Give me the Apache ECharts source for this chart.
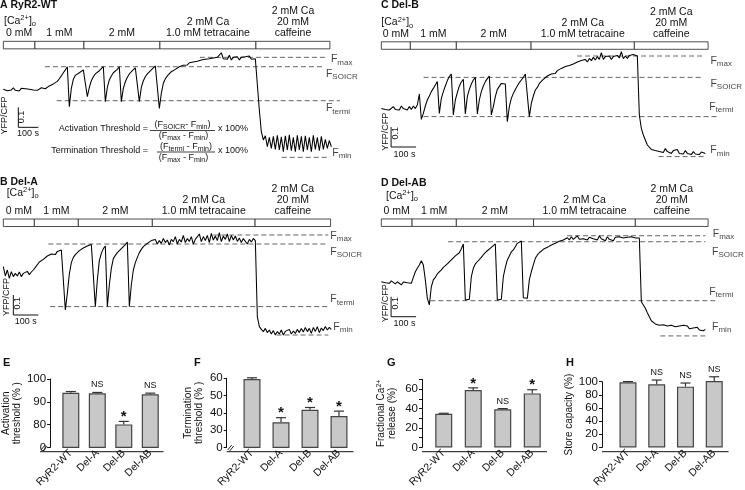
<!DOCTYPE html>
<html><head><meta charset="utf-8">
<script src="https://cdn.jsdelivr.net/npm/echarts@6/dist/echarts.min.js"></script>
<style>html,body{margin:0;padding:0;background:#fff}#c{width:745px;height:490px}</style>
</head><body><div id="c"></div><script>
// ================= DATA =================
const dtA = 10;
const traceA = [1.000,1.007,0.993,1.003,0.997,1.008,0.995,1.002,0.992,1.005,0.998,1.003,0.993,1.000,1.007,0.997,1.003,0.995,1.002,1.008,0.998,
1.003,1.010,1.017,1.013,1.027,1.030,1.040,1.053,1.067,1.083,1.097,1.113,
0.913,1.005,1.050,1.070,1.077,1.083,1.090,1.097,1.107,
0.963,1.010,1.043,1.063,1.077,1.087,1.093,1.103,1.113,
0.938,1.010,1.047,1.067,1.083,1.093,1.100,1.113,
0.938,1.005,1.038,1.060,1.077,1.088,1.097,1.107,1.113,
0.938,1.010,1.043,1.063,1.077,1.087,1.097,1.105,1.117,1.122,
0.905,0.980,1.030,1.053,1.067,1.077,1.088,1.093,1.100,1.103,1.113,1.110,1.120,1.127,1.122,1.133,1.127,1.137,1.130,1.140,
1.133,1.147,1.137,1.150,1.140,1.153,1.143,1.157,1.147,1.160,1.150,1.183,1.153,1.163,1.150,1.170,1.147,1.160,1.150,1.163,
1.147,1.160,1.150,1.163,1.153,1.167,1.150,1.160,1.153,1.163,
0.897,0.788,0.747,0.768,0.713,0.760,0.705,0.765,0.700,0.770,0.697,0.762,0.688,0.768,0.697,0.772,0.693,0.760,0.688,0.770,
0.697,0.765,0.688,0.768,0.697,0.760,0.688,0.770,0.700,0.760,0.693,0.765,0.700,0.750,0.705,0.745,0.713];
const dtB = 8;
const traceB = [1.037,0.990,1.020,0.978,1.012,0.987,1.003,0.990,1.010,0.987,1.003,0.993,1.013,0.997,1.010,1.020,1.033,1.043,1.060,1.053,1.073,1.080,1.090,1.083,1.100,1.103,1.097,1.113,1.110,1.120,1.117,
0.820,0.903,1.000,1.057,1.083,1.097,1.107,1.117,1.123,1.130,1.133,1.140,1.143,1.147,1.150,
0.837,0.970,1.067,1.103,1.127,1.140,
0.837,0.945,1.028,1.077,1.093,1.107,1.117,1.127,1.137,1.147,1.160,
0.837,0.945,1.020,1.057,1.083,1.107,1.123,1.137,1.147,1.153,1.150,1.167,1.157,1.173,1.150,1.167,1.153,1.178,1.157,1.170,
1.145,1.173,1.162,1.187,1.150,1.173,1.160,1.193,1.157,1.177,1.163,1.187,1.150,1.173,1.167,1.200,1.162,1.187,1.167,1.193,
1.157,1.203,1.170,1.190,1.167,1.207,1.162,1.190,1.173,1.200,1.162,1.193,1.170,1.190,1.163,1.180,1.157,1.177,1.167,1.150,
1.173,1.160,1.178,1.167,
0.787,0.737,0.723,0.712,0.728,0.707,0.720,0.700,0.717,0.695,0.712,0.700,0.720,0.695,0.713,0.703,0.723,0.700,0.715,0.703,
0.723,0.707,0.728,0.710,0.733,0.712,0.728,0.703,0.733,0.713,0.737,0.707,0.730,0.717,0.737,0.720,0.733,0.723];
const dtC = 8;
const traceC = [1.003,1.012,0.998,1.008,0.995,1.005,1.012,0.998,1.008,0.995,1.015,1.002,1.008,0.995,1.012,0.998,1.015,1.002,1.020,
1.075,0.948,
0.978,1.015,1.045,1.065,1.087,1.103,1.120,1.137,
0.978,1.053,1.087,1.115,1.142,1.162,1.175,
0.970,1.045,1.082,1.115,1.135,1.148,
0.975,1.062,1.098,1.125,1.145,1.158,
0.975,1.045,1.087,1.115,1.137,1.152,1.165,
0.970,1.012,1.062,1.098,1.108,1.128,1.132,1.125,
0.937,1.012,1.053,1.078,1.098,1.115,1.132,1.145,1.158,1.175,1.182,
0.962,1.028,1.065,1.095,1.108,1.128,1.135,1.148,1.158,1.165,1.170,1.175,1.185,1.178,1.192,1.195,1.203,1.198,1.212,1.205,
1.218,1.212,1.225,1.218,1.235,1.225,1.242,1.232,1.248,1.235,1.253,1.242,1.258,1.245,1.262,1.248,1.282,1.248,1.262,1.252,
1.265,1.248,1.262,1.253,1.268,1.255,1.287,1.252,1.265,1.253,1.268,1.258,1.272,1.262,1.265,
0.970,0.903,0.870,0.845,0.820,0.812,0.798,0.803,0.792,0.798,0.787,0.795,0.782,0.802,0.787,0.795,0.778,0.792,0.782,0.798,
0.778,0.787,0.775,0.792,0.778,0.785,0.772,0.787,0.775,0.782,0.772,0.785,0.775,0.778];
const dtD = 8;
const traceD = [1.003,1.008,0.998,1.005,0.995,1.007,0.998,0.992,1.003,0.995,0.987,1.002,0.992,0.998,0.988,0.995,
1.025,1.053,1.070,1.087,1.108,1.087,1.012,0.920,0.887,0.978,1.012,1.025,1.042,1.052,1.062,1.075,1.085,1.092,1.102,1.112,1.120,1.132,1.138,1.148,1.168,1.192,
0.912,0.908,0.915,1.028,1.070,1.092,1.103,1.112,1.125,1.138,1.145,1.158,1.168,1.175,1.182,1.192,
0.912,0.908,0.915,1.028,1.075,1.112,1.132,1.152,1.162,1.178,1.195,1.205,1.207,
0.923,0.920,0.920,1.012,1.053,1.087,1.120,1.137,1.148,1.155,1.165,1.170,1.175,1.182,1.187,1.192,1.195,1.202,1.205,1.208,
1.212,1.215,1.223,1.212,1.228,1.215,1.222,1.232,1.215,1.225,1.218,1.228,1.212,1.225,1.235,1.218,1.223,1.212,1.232,1.218,
1.222,1.208,1.228,1.215,1.223,1.208,1.225,1.215,1.228,1.218,1.222,1.212,1.225,1.215,1.228,1.218,1.222,1.212,1.222,
0.903,0.887,0.870,0.848,0.828,0.808,0.798,0.792,0.798,0.785,0.795,0.788,0.798,0.782,0.792,0.785,0.795,0.778,0.788,0.782,
0.775,0.785,0.775,0.782,0.768,0.778,0.772,0.765,0.775,0.762,0.768,0.758,0.765];

// perfusion conditions (labels) and their boundaries in seconds for each experiment
const condLabels = ['0 mM','1 mM','2 mM','2 mM Ca\n1.0 mM tetracaine','2 mM Ca\n20 mM\ncaffeine'];
const condEdgesA = [0,158,403,783,1263,1633];
const condEdgesB = [0,124,300,596,1007,1309];
const condEdgesC = [0,116,300,599,1012,1307];
const condEdgesD = [0,123,300,609,1016,1307];

// reference levels: F_max, F_SOICR, F_termi, F_min (YFP/CFP ratio) and their drawn time spans (s)
const fNames = ['max','SOICR','termi','min'];
const fLevelsA = [1.160,1.113,0.943,0.660];
const fLevelsB = [1.195,1.150,0.837,0.695];
const fLevelsC = [1.265,1.158,0.962,0.762];
const fLevelsD = [1.233,1.203,0.908,0.732];
const fSpansA = [[983,1608],[208,1608],[267,1683],[1392,1633]];
const fSpansB = [[840,1300],[180,1300],[187,1300],[1093,1300]];
const fSpansC = [[783,1283],[169,1283],[169,1349],[1109,1296]];
const fSpansD = [[743,1296],[267,1296],[196,1349],[1116,1296]];

// scale bars
const scaleTime = 100;   // s
const scaleRatio = 0.1;  // YFP/CFP
const scaleCornerA = [75,0.81];
const scaleCornerB = [40,0.795];
const scaleCornerC = [39,0.81];
const scaleCornerD = [39,0.828];

// summary bar charts
const barCategories = ['RyR2-WT','Del-A','Del-B','Del-AB'];
const activationMean = [94.0,93.7,80.1,93.3];
const activationErr  = [0.5,0.4,1.3,0.5];
const activationSig  = ['','NS','*','NS'];
const terminationMean = [59.6,34.6,41.8,38.2];
const terminationErr  = [0.7,2.6,1.3,2.8];
const terminationSig  = ['','*','*','*'];
const releaseMean = [34.5,59.0,39.2,55.5];
const releaseErr  = [0.6,2.2,0.7,3.8];
const releaseSig  = ['','*','NS','*'];
const capacityMean = [99.0,96.0,92.5,101.0];
const capacityErr  = [1.2,6.5,5.5,6.5];
const capacitySig  = ['','NS','NS','NS'];

// ================= LAYOUT / RENDER =================
const FF = '"Liberation Sans", Arial, Helvetica, sans-serif';
const INK = '#111';
const PX_PER_UNIT = 200;
const grids=[], xAxes=[], yAxes=[], series=[], graphics=[];

const fLabelOffA = [[1,2],[-4,7.3],[-19,7.7],[-2.7,-4.7]];
const fLabelOffB = [[-3,0.7],[-3,7.7],[-3,-7.3],[0,-8.3]];
const fLabelOffC = [[3.3,4.7],[3.3,6.7],[-14.4,-9.4],[0,-6]];
const fLabelOffD = [[2.4,-1.7],[1.7,10],[-14.4,-9],[1.7,-8.7]];

const traceCfg = [
  {vals:traceA, dt:dtA, edges:condEdgesA, levels:fLevelsA, spans:fSpansA, offs:fLabelOffA, corner:scaleCornerA, left:3.33, basePx:89.33, sPerPx:5, ymin:0.62, ymax:1.24},
  {vals:traceB, dt:dtB, edges:condEdgesB, levels:fLevelsB, spans:fSpansB, offs:fLabelOffB, corner:scaleCornerB, left:3.33, basePx:274, sPerPx:4, ymin:0.64, ymax:1.275},
  {vals:traceC, dt:dtC, edges:condEdgesC, levels:fLevelsC, spans:fSpansC, offs:fLabelOffC, corner:scaleCornerC, left:381.33, basePx:109, sPerPx:4, ymin:0.74, ymax:1.336},
  {vals:traceD, dt:dtD, edges:condEdgesD, levels:fLevelsD, spans:fSpansD, offs:fLabelOffD, corner:scaleCornerD, left:381.33, basePx:282.33, sPerPx:4, ymin:0.72, ymax:1.317}
];
const fRich = {
  F:{fontSize:10.5, fontFamily:FF, color:INK},
  s:{fontSize:8, fontFamily:FF, color:INK, padding:[6,0,0,0]}
};

traceCfg.forEach((c,i)=>{
  grids.push({left:c.left, top:c.basePx-(c.ymax-1)*PX_PER_UNIT, width:340, height:(c.ymax-c.ymin)*PX_PER_UNIT});
  xAxes.push({gridIndex:i, type:'value', min:0, max:340*c.sPerPx, show:false});
  yAxes.push({gridIndex:i, type:'value', min:c.ymin, max:c.ymax, show:false});
  const barBottom = c.ymax - 7.5/PX_PER_UNIT;
  series.push({
    type:'line', xAxisIndex:i, yAxisIndex:i, silent:true, symbol:'none',
    data:c.vals.map((v,k)=>[k*c.dt, v]),
    lineStyle:{color:'#000', width:1.05},
    markArea:{silent:true,
      itemStyle:{color:'#fff', borderColor:'#222', borderWidth:0.8},
      label:{show:true, position:'top', distance:2, color:INK, fontSize:10.5, lineHeight:11, fontFamily:FF, formatter:p=>p.name},
      data:condLabels.map((lab,k)=>[{name:lab, coord:[c.edges[k], c.ymax]},{coord:[c.edges[k+1], barBottom]}])
    }
  });
  c.levels.forEach((v,k)=>{
    series.push({type:'line', xAxisIndex:i, yAxisIndex:i, silent:true, symbol:'none', z:1,
      data:[[c.spans[k][0], v],[c.spans[k][1], v]],
      lineStyle:{color:'#555', width:0.9, type:[5,3]}});
  });
  series.push({type:'scatter', xAxisIndex:i, yAxisIndex:i, silent:true, symbolSize:0,
    label:{show:true, position:'right', distance:5, rich:fRich},
    data:fNames.map((n,k)=>({value:[c.spans[k][1], c.levels[k]], label:{offset:c.offs[k], formatter:'{F|F}{s|'+n+'}'}}))
  });
  const [t0,r0] = c.corner;
  series.push({type:'line', xAxisIndex:i, yAxisIndex:i, silent:true, symbol:'none',
    data:[[t0, r0+scaleRatio],[t0, r0],[t0+scaleTime, r0]],
    lineStyle:{color:INK, width:1}});
});

// ---- bar charts ----
const barCfg = [
  {means:activationMean, errs:activationErr, sigs:activationSig, grid:{left:47.5, top:379, width:116, height:72.7}, min:70, max:100, interval:10, axisX:40, zeroAt:70, labelEvery:10, name:'Activation\nthreshold (% )', nameGap:17},
  {means:terminationMean, errs:terminationErr, sigs:terminationSig, grid:{left:237.5, top:378.3, width:116, height:73.4}, min:20, max:60, interval:10, axisX:226.7, zeroAt:20, labelEvery:10, name:'Termination\nthreshold (% )', nameGap:22},
  {means:releaseMean, errs:releaseErr, sigs:releaseSig, grid:{left:429, top:379.3, width:118, height:72.4}, min:0, max:70, interval:10, axisX:422, zeroAt:null, labelEvery:20, name:'{a|Fractional Ca}{sup|2+}\n{a|release (%)}', nameGap:24},
  {means:capacityMean, errs:capacityErr, sigs:capacitySig, grid:{left:613.6, top:381.7, width:115, height:70}, min:0, max:100, interval:20, axisX:602, zeroAt:null, labelEvery:20, name:'Store capacity (%)', nameGap:13}
];
barCfg.forEach((b,j)=>{
  const gi = 4+j;
  grids.push(b.grid);
  xAxes.push({gridIndex:gi, type:'category', data:barCategories,
    axisLine:{show:false}, axisTick:{show:false},
    axisLabel:{rotate:45, interval:0, fontSize:10.5, margin:4, color:INK, fontFamily:FF}});
  yAxes.push({gridIndex:gi, type:'value', min:b.min, max:b.max, interval:b.interval,
    offset:b.grid.left-b.axisX,
    axisLine:{show:true, lineStyle:{color:INK, width:1}},
    axisTick:{show:true, length:3, lineStyle:{color:INK}},
    splitLine:{show:false},
    axisLabel:{fontSize:11.5, margin:4, color:INK, fontFamily:FF,
      formatter:v=>(b.zeroAt!==null && v===b.zeroAt) ? '0' : (v % b.labelEvery === 0 ? String(v) : '')},
    name:b.name, nameLocation:'middle', nameGap:b.nameGap, nameRotate:90,
    nameTextStyle:{fontSize:10, lineHeight:11, color:INK, fontFamily:FF,
      rich:{a:{fontSize:10, fontFamily:FF, color:INK}, sup:{fontSize:7, fontFamily:FF, color:INK, padding:[0,0,5,0]}}}
  });
  series.push({type:'bar', xAxisIndex:gi, yAxisIndex:gi, data:b.means, barWidth:17, silent:true,
    itemStyle:{color:'#c8c8c8', borderColor:'#444', borderWidth:1.2}});
  series.push({type:'custom', xAxisIndex:gi, yAxisIndex:gi, silent:true, z:5,
    data:b.means.map((m,k)=>[k, m, b.errs[k]]),
    renderItem:(params, api)=>{
      const x = api.value(0), m = api.value(1), e = api.value(2);
      const p0 = api.coord([x, m]), p1 = api.coord([x, m+e]);
      const sig = b.sigs[params.dataIndex];
      const ch = [
        {type:'line', shape:{x1:p0[0], y1:p0[1], x2:p1[0], y2:p1[1]}, style:{stroke:'#333', lineWidth:1.2}},
        {type:'line', shape:{x1:p1[0]-5, y1:p1[1], x2:p1[0]+5, y2:p1[1]}, style:{stroke:'#333', lineWidth:1.2}}
      ];
      if (sig) {
        const star = sig === '*';
        ch.push({type:'text', x:p1[0], y:star ? p1[1]+3 : p1[1]-3,
          style:{text:sig, fill:INK, align:'center', verticalAlign:'bottom',
            font: star ? 'bold 15px '+FF : '9px '+FF}});
      }
      return {type:'group', children:ch};
    }
  });
  // x baseline spanning from the (offset) y axis to the grid end
  graphics.push({type:'line', shape:{x1:b.axisX, y1:b.grid.top+b.grid.height, x2:b.grid.left+b.grid.width, y2:b.grid.top+b.grid.height}, style:{stroke:INK, lineWidth:1}});
});

// ---- text annotations ----
function txt(x, y, text, opts) {
  const o = Object.assign({size:10, weight:'normal', align:'left', vAlign:'middle', rot:0, rich:null}, opts||{});
  const style = {text:text, fill:INK, font:o.weight+' '+o.size+'px '+FF, align:o.align, verticalAlign:o.vAlign};
  if (o.rich) style.rich = o.rich;
  graphics.push({type:'text', x:x, y:y, rotation:o.rot, style:style, silent:true});
}
function hline(x1, x2, y, w) {
  graphics.push({type:'line', shape:{x1:x1, y1:y, x2:x2, y2:y}, style:{stroke:INK, lineWidth:w||0.8}, silent:true});
}
// panel titles
txt(0, 5.5, 'A RyR2-WT', {weight:'bold', size:10.5});
txt(0, 181.7, 'B Del-A', {weight:'bold', size:10.5});
txt(381, 5.5, 'C Del-B', {weight:'bold', size:10.5});
txt(381, 183.3, 'D Del-AB', {weight:'bold', size:10.5});
// [Ca2+]o
const caRich = {t:{fontSize:10.5, fontFamily:FF, color:INK}, sup:{fontSize:7.5, fontFamily:FF, color:INK, padding:[0,0,6,0]}, sub:{fontSize:7.5, fontFamily:FF, color:INK, padding:[6,0,0,0]}};
const caText = '{t|[Ca}{sup|2+}{t|]}{sub|o}';
txt(4, 21, caText, {rich:caRich});
txt(6.7, 192.7, caText, {rich:caRich});
txt(381.3, 22.5, caText, {rich:caRich});
txt(386, 196, caText, {rich:caRich});
// scale bar labels
[[5,115.5,22,117,28,133.5],[6.7,297,17.5,303.3,25.8,321.7],[385.8,131.7,395.2,133.3,404.5,155],[385.8,303.3,395.2,303.3,404.5,323.3]].forEach(s=>{
  txt(s[0], s[1], 'YFP/CFP', {size:9, align:'center', rot:Math.PI/2});
  txt(s[2], s[3], '0.1', {size:9, align:'center', rot:Math.PI/2});
  txt(s[4], s[5], '100 s', {size:9, align:'center'});
});
// threshold formulas
const fmRich = {t:{fontSize:9, fontFamily:FF, color:INK}, s:{fontSize:7, fontFamily:FF, color:INK, padding:[5,0,0,0]}};
txt(148, 128.5, 'Activation Threshold =', {size:9, align:'right'});
txt(182.5, 124.5, '{t|(F}{s|SOICR}{t|- F}{s|min}{t|)}', {align:'center', rich:fmRich});
hline(150, 215, 130.5);
txt(183.5, 136, '{t|(F}{s|max}{t| - F}{s|min}{t|)}', {align:'center', rich:fmRich});
txt(218, 128.5, 'x 100%', {size:9});
txt(148, 151, 'Termination Threshold =', {size:9, align:'right'});
txt(186, 146.5, '{t|(F}{s|termi}{t| - F}{s|min}{t|)}', {align:'center', rich:fmRich});
hline(157, 215, 152);
txt(183.5, 157.5, '{t|(F}{s|max}{t| - F}{s|min}{t|)}', {align:'center', rich:fmRich});
txt(218, 151, 'x 100%', {size:9});
// bar panel letters
txt(3, 363.3, 'E', {weight:'bold', size:11});
txt(194, 363.3, 'F', {weight:'bold', size:11});
txt(387, 363.3, 'G', {weight:'bold', size:11});
txt(566, 363.3, 'H', {weight:'bold', size:11});
// axis break marks
[[41,446],[227.7,446]].forEach(p=>{
  graphics.push({type:'line', shape:{x1:p[0], y1:p[1]+4, x2:p[0]+4, y2:p[1]-1}, style:{stroke:INK, lineWidth:0.9}, silent:true});
  graphics.push({type:'line', shape:{x1:p[0]+2, y1:p[1]+5, x2:p[0]+6, y2:p[1]}, style:{stroke:INK, lineWidth:0.9}, silent:true});
});

const chart = echarts.init(document.getElementById('c'), null, {renderer:'canvas'});
chart.setOption({
  animation:false,
  backgroundColor:'#fff',
  textStyle:{fontFamily:FF},
  grid:grids, xAxis:xAxes, yAxis:yAxes, series:series, graphic:graphics
});
</script></body></html>
